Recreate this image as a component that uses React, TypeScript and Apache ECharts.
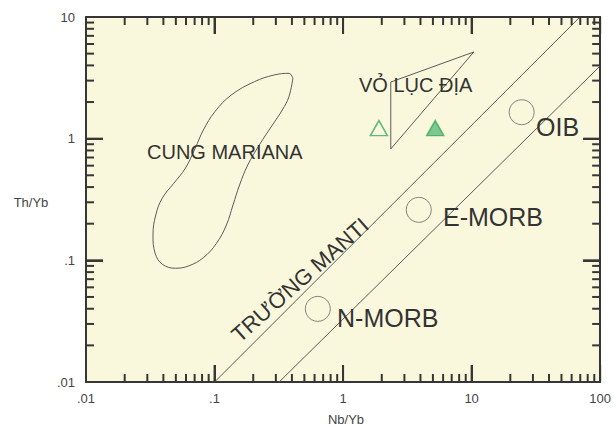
import React, { useEffect, useRef } from 'react';
import * as echarts from 'echarts';

// Axis decades and minor-tick multipliers
const xDecades = [0.01, 0.1, 1, 10, 100];
const yDecades = [0.01, 0.1, 1, 10];
const minorSteps = [2, 3, 4, 5, 6, 7, 8, 9];
const tickLabels: Record<string, string> = { '0.01': '.01', '0.1': '.1', '1': '1', '10': '10', '100': '100' };

// Mantle array boundaries (Nb/Yb, Th/Yb)
const mantleUpper = [[0.1, 0.01], [69.6, 10]];
const mantleLower = [[0.318, 0.01], [100, 3.96]];

// Mariana arc field outline (Nb/Yb, Th/Yb)
const marianaField = [
  [0.4069, 3.135], [0.3791, 3.446], [0.2907, 3.337], [0.2042, 2.94], [0.1351, 2.286],
  [0.1007, 1.667], [0.0819, 1.179], [0.0707, 0.834], [0.0593, 0.571], [0.0482, 0.43],
  [0.0392, 0.324], [0.0349, 0.236], [0.0332, 0.1617], [0.0345, 0.1144], [0.0392, 0.0929],
  [0.0497, 0.0861], [0.0628, 0.0899], [0.0819, 0.1052], [0.1036, 0.1382], [0.1237, 0.1954],
  [0.1392, 0.285], [0.1566, 0.4165], [0.1814, 0.608], [0.2231, 0.888], [0.2821, 1.296],
  [0.3368, 1.721], [0.3791, 2.214], [0.4069, 3.135],
];

// Continental crust field
const crustField = [[2.35, 2.92], [10.4, 5.16], [2.35, 0.823], [2.35, 2.92]];

// Reference compositions
const referenceNames = ['N-MORB', 'E-MORB', 'OIB'];
const referenceNbYb = [0.636, 3.88, 24.5];
const referenceThYb = [0.0399, 0.26, 1.65];

// Samples
const sampleOpen = [[1.9, 1.22]];
const sampleFilled = [[5.21, 1.22]];

const FONT = "'Liberation Sans', Arial, Helvetica, sans-serif";
const AXIS = '#363636';
const LINE = '#5a5a5a';
const TEXT = '#333333';
const PLOT_BG = '#FAF8DC';
const MAJOR_LEN = 17;
const MINOR_LEN = 8;

function buildTicks(decades: number[]) {
  const out: number[][] = [];
  for (let i = 0; i < decades.length; i++) {
    const d = decades[i];
    out.push([d, 1]);
    if (i < decades.length - 1) {
      for (const m of minorSteps) out.push([Number((d * m).toPrecision(3)), 0]);
    }
  }
  return out;
}

export default function App() {
  const ref = useRef<HTMLDivElement>(null);
  useEffect(() => {
    if (!ref.current) return;
    const chart = echarts.init(ref.current, undefined, { renderer: 'svg' });
    const fmt = (v: number) => {
      const k = String(Number(v.toPrecision(3)));
      return tickLabels[k] ?? k;
    };
    const xMin = xDecades[0], xMax = xDecades[xDecades.length - 1];
    const yMin = yDecades[0], yMax = yDecades[yDecades.length - 1];

    // Inward tick marks drawn as rect symbols placed on the axes through the log scales
    const tickData: any[] = [];
    for (const t of buildTicks(xDecades)) {
      const len = t[1] ? MAJOR_LEN : MINOR_LEN;
      tickData.push({ value: [t[0], yMin], symbolSize: [2, len], symbolOffset: [0, -len / 2] });
      tickData.push({ value: [t[0], yMax], symbolSize: [2, len], symbolOffset: [0, len / 2] });
    }
    for (const t of buildTicks(yDecades)) {
      const len = t[1] ? MAJOR_LEN : MINOR_LEN;
      tickData.push({ value: [xMin, t[0]], symbolSize: [len, 2], symbolOffset: [len / 2, 0] });
      tickData.push({ value: [xMax, t[0]], symbolSize: [len, 2], symbolOffset: [-len / 2, 0] });
    }

    const majorTick = { show: true, inside: true, length: MAJOR_LEN, lineStyle: { color: AXIS, width: 2 } };

    const texts: any[] = [
      { type: 'text', x: 31, y: 202, style: { text: 'Th/Yb', fill: '#444', font: `13px ${FONT}`, align: 'center', verticalAlign: 'middle' } },
      { type: 'text', x: 346, y: 419, style: { text: 'Nb/Yb', fill: '#444', font: `13px ${FONT}`, align: 'center', verticalAlign: 'middle' } },
      { type: 'text', x: 147, y: 152, z: 10, style: { text: 'CUNG MARIANA', fill: TEXT, font: `20px ${FONT}`, align: 'left', verticalAlign: 'middle' } },
      { type: 'text', x: 359, y: 85, z: 10, style: { text: 'VỎ LỤC ĐỊA', fill: TEXT, font: `20px ${FONT}`, align: 'left', verticalAlign: 'middle' } },
      { type: 'text', x: 536, y: 127, z: 10, style: { text: 'OIB', fill: TEXT, font: `25px ${FONT}`, align: 'left', verticalAlign: 'middle' } },
      { type: 'text', x: 443, y: 217, z: 10, style: { text: 'E-MORB', fill: TEXT, font: `25px ${FONT}`, align: 'left', verticalAlign: 'middle' } },
      { type: 'text', x: 337, y: 318, z: 10, style: { text: 'N-MORB', fill: TEXT, font: `25px ${FONT}`, align: 'left', verticalAlign: 'middle' } },
      { type: 'text', x: 300, y: 280, rotation: (41.5 * Math.PI) / 180, z: 10, style: { text: 'TRƯỜNG MANTI', fill: TEXT, font: `22px ${FONT}`, align: 'center', verticalAlign: 'middle' } },
    ];

    const option: any = {
      animation: false,
      backgroundColor: '#ffffff',
      grid: { left: 86, top: 17, width: 521.6, height: 365, show: true, backgroundColor: PLOT_BG, borderWidth: 0 },
      xAxis: [
        {
          type: 'log', logBase: 10, min: xMin, max: xMax, position: 'bottom',
          axisLine: { show: true, lineStyle: { color: AXIS, width: 2 } },
          axisTick: majorTick, splitLine: { show: false }, minorTick: { show: false },
          axisLabel: { formatter: fmt, color: '#444', fontSize: 13, fontFamily: FONT, margin: 10 },
        },
        {
          type: 'log', logBase: 10, min: xMin, max: xMax, position: 'top',
          axisLine: { show: true, lineStyle: { color: AXIS, width: 2 } },
          axisTick: majorTick, splitLine: { show: false }, axisLabel: { show: false },
        },
      ],
      yAxis: [
        {
          type: 'log', logBase: 10, min: yMin, max: yMax, position: 'left',
          axisLine: { show: true, lineStyle: { color: AXIS, width: 2 } },
          axisTick: majorTick, splitLine: { show: false },
          axisLabel: { formatter: fmt, color: '#444', fontSize: 13, fontFamily: FONT, margin: 11 },
        },
        {
          type: 'log', logBase: 10, min: yMin, max: yMax, position: 'right',
          axisLine: { show: true, lineStyle: { color: AXIS, width: 2 } },
          axisTick: majorTick, splitLine: { show: false }, axisLabel: { show: false },
        },
      ],
      series: [
        { type: 'line', data: mantleUpper, symbol: 'none', silent: true, z: 3, lineStyle: { color: LINE, width: 1 } },
        { type: 'line', data: mantleLower, symbol: 'none', silent: true, z: 3, lineStyle: { color: LINE, width: 1 } },
        { type: 'line', data: marianaField, symbol: 'none', smooth: 0.4, silent: true, z: 3, lineStyle: { color: LINE, width: 1 } },
        { type: 'line', data: crustField, symbol: 'none', silent: true, z: 3, lineStyle: { color: LINE, width: 1 } },
        {
          type: 'scatter', silent: true, symbol: 'circle', symbolSize: 25, z: 3,
          data: referenceNames.map((n, i) => ({ name: n, value: [referenceNbYb[i], referenceThYb[i]] })),
          itemStyle: { color: 'rgba(0,0,0,0)', borderColor: '#666', borderWidth: 1 },
        },
        {
          type: 'scatter', silent: true, symbol: 'triangle', symbolSize: [17, 15], data: sampleOpen, z: 3,
          itemStyle: { color: PLOT_BG, borderColor: '#3BAA5E', borderWidth: 1.5 },
        },
        {
          type: 'scatter', silent: true, symbol: 'triangle', symbolSize: [17, 15], data: sampleFilled, z: 3,
          itemStyle: { color: '#5DBB7E', borderColor: '#3BAA5E', borderWidth: 1.5 },
        },
        {
          type: 'scatter', silent: true, symbol: 'rect', clip: false, z: 6, data: tickData,
          itemStyle: { color: AXIS, borderWidth: 0, opacity: 1 },
        },
      ],
      graphic: { elements: texts },
    };
    chart.setOption(option);
    return () => chart.dispose();
  }, []);
  return <div ref={ref} style={{ position: 'fixed', left: 0, top: 0, width: 614, height: 426 }} />;
}
